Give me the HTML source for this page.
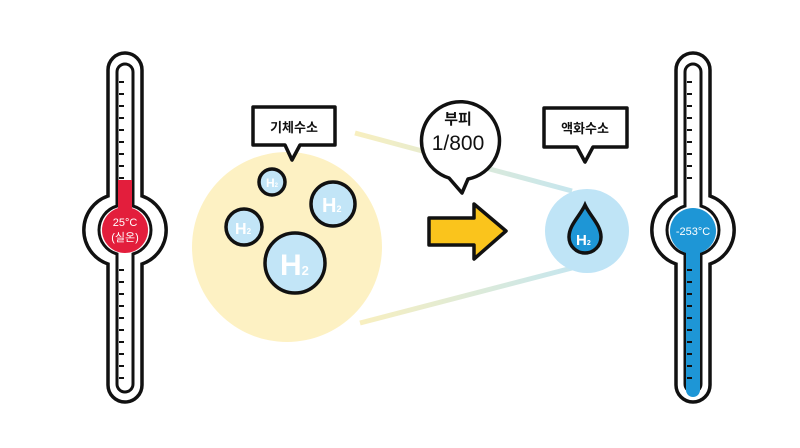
<!DOCTYPE html>
<html><head><meta charset="utf-8"><style>
html,body{margin:0;padding:0;background:#fff;width:800px;height:448px;overflow:hidden}
svg text{font-family:"Liberation Sans","Noto Sans CJK KR",sans-serif}
</style></head><body>
<svg width="800" height="448" viewBox="0 0 800 448" xmlns="http://www.w3.org/2000/svg">
<defs>
<linearGradient id="fl" x1="0" x2="1" y1="0" y2="0">
<stop offset="0" stop-color="#f8efbf"/><stop offset="1" stop-color="#c6e6ee"/>
</linearGradient>
</defs>
<line x1="355" y1="133" x2="572" y2="191" stroke="url(#fl)" stroke-width="5"/>
<line x1="360" y1="323" x2="572" y2="268" stroke="url(#fl)" stroke-width="5"/>
<circle cx="287" cy="247" r="95" fill="#fdf1c3"/>
<circle cx="587" cy="231" r="42" fill="#bfe4f6"/>

<g stroke="#111" stroke-width="3.5" fill="#c2e5f7">
<circle cx="272" cy="182" r="13"/>
<circle cx="333" cy="204" r="22"/>
<circle cx="244" cy="227" r="18"/>
<circle cx="295" cy="263" r="30"/>
</g>
<g fill="#fff" font-weight="bold">
<text x="266" y="187" font-size="12">H<tspan font-size="6">2</tspan></text>
<text x="322" y="212" font-size="20">H<tspan font-size="9">2</tspan></text>
<text x="235" y="234" font-size="16">H<tspan font-size="8">2</tspan></text>
<text x="280" y="275" font-size="30">H<tspan font-size="13">2</tspan></text>
</g>

<path d="M253 107 H335 V145 H300 L292 160 L285 145 H253 Z" fill="#fff" stroke="#111" stroke-width="3.5" stroke-linejoin="round"/>
<text x="294" y="132" font-size="13" font-weight="bold" text-anchor="middle" fill="#111">기체수소</text>

<path d="M544 108 H627 V147 H593 L585 162 L577 147 H544 Z" fill="#fff" stroke="#111" stroke-width="3.5" stroke-linejoin="round"/>
<text x="585" y="133" font-size="13" font-weight="bold" text-anchor="middle" fill="#111">액화수소</text>

<path d="M449 178 A39 39 0 1 1 468 179 L462 193 Z" fill="#fff" stroke="#111" stroke-width="3.5" stroke-linejoin="round"/>
<text x="458" y="124" font-size="15" font-weight="bold" text-anchor="middle" fill="#111">부피</text>
<text x="458" y="150" font-size="21" text-anchor="middle" fill="#111">1/800</text>

<path d="M429 218 H474 V204 L506 231 L474 259 V245 H429 Z" fill="#fac41c" stroke="#111" stroke-width="3.5" stroke-linejoin="round"/>

<path d="M585 205 C580 216 569 225 569 237 A16 16 0 0 0 601 237 C601 225 590 216 585 205 Z" fill="#1e96d6" stroke="#111" stroke-width="3.5"/>
<text x="576" y="245" font-size="15" font-weight="bold" fill="#fff">H<tspan font-size="7">2</tspan></text>

<path d="M108 70 A17 17 0 0 1 142 70 V196 A36 36 0 0 1 142 264 V385 A17 17 0 0 1 108 385 V264 A36 36 0 0 1 108 196 Z" fill="#fff" stroke="#111" stroke-width="3.5"/>
<path d="M117 72 A8 8 0 0 1 133 72 V206 A25 25 0 0 1 133 254 V384 A8 8 0 0 1 117 384 V254 A25 25 0 0 1 117 206 Z" fill="#fff" stroke="#111" stroke-width="3"/>
<rect x="118" y="180" width="14" height="40" fill="#e31e3c"/>
<circle cx="125" cy="230" r="23" fill="#e31e3c"/>
<text x="125" y="226" font-size="11" text-anchor="middle" fill="#fff">25°C</text>
<text x="125" y="241" font-size="11" text-anchor="middle" fill="#fff">(실온)</text>
<g stroke="#111" stroke-width="2">
<path d="M119 82h5M119 94h5M119 106h5M119 118h5M119 130h5M119 142h5M119 154h5M119 166h5M119 178h5"/>
<path d="M119 270h5M119 282h5M119 294h5M119 306h5M119 318h5M119 330h5M119 342h5M119 354h5M119 366h5M119 378h5"/>
</g>

<path d="M676 70 A17 17 0 0 1 710 70 V196 A36 36 0 0 1 710 264 V385 A17 17 0 0 1 676 385 V264 A36 36 0 0 1 676 196 Z" fill="#fff" stroke="#111" stroke-width="3.5"/>
<path d="M685 72 A8 8 0 0 1 701 72 V206 A25 25 0 0 1 701 254 V384 A8 8 0 0 1 685 384 V254 A25 25 0 0 1 685 206 Z" fill="#fff" stroke="#111" stroke-width="3"/>
<path d="M686 240 H700 V390 A7 7 0 0 1 686 390 Z" fill="#1e96d6"/>
<circle cx="693" cy="231" r="23" fill="#1e96d6"/>
<text x="693" y="235" font-size="11" text-anchor="middle" fill="#fff">-253°C</text>
<g stroke="#111" stroke-width="2">
<path d="M687 82h5M687 94h5M687 106h5M687 118h5M687 130h5M687 142h5M687 154h5M687 166h5M687 178h5"/>
<path d="M687 270h5M687 282h5M687 294h5M687 306h5M687 318h5M687 330h5M687 342h5M687 354h5M687 366h5M687 378h5"/>
</g>
</svg>
</body></html>
